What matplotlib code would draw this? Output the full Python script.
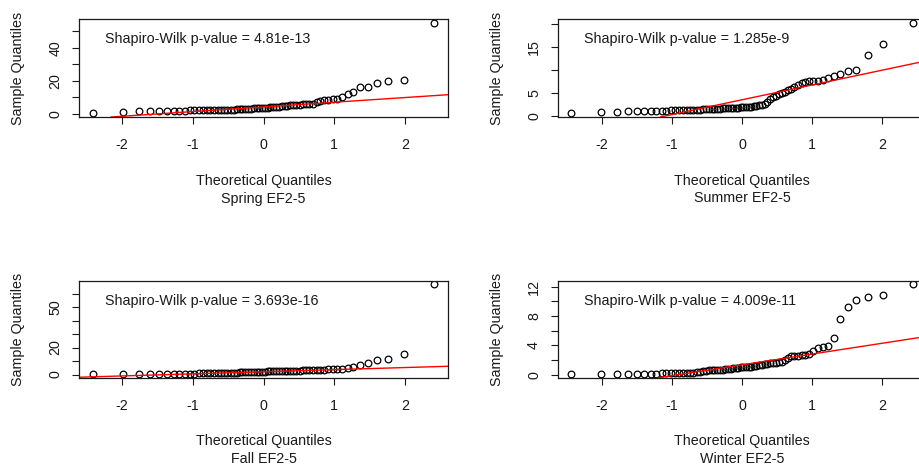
import matplotlib
matplotlib.use('Agg')
import matplotlib.pyplot as plt
import numpy as np
from statistics import NormalDist

plt.rcParams['font.family'] = ['Liberation Sans', 'DejaVu Sans']
plt.rcParams['font.size'] = 10.3

# sorted EF2-5 values per season
spring = [0.3, 1.0, 1.6, 1.7, 1.8, 1.9, 1.9, 2.0, 2.0, 2.1,
          2.1, 2.2, 2.2, 2.2, 2.3, 2.3, 2.3, 2.4, 2.4, 2.5,
          2.5, 2.6, 2.7, 2.8, 2.9, 3.0, 3.1, 3.2, 3.3, 3.4,
          3.5, 3.6, 3.7, 3.8, 4.0, 4.1, 4.3, 4.4, 4.6, 4.8,
          5.0, 5.1, 5.3, 5.4, 5.6, 5.8, 5.9, 6.1, 6.2, 7.0,
          8.0, 8.4, 8.7, 8.9, 9.1, 10.5, 11.9, 13.2, 16.3, 16.5,
          18.7, 19.9, 20.7, 55.3]
summer = [0.5, 0.7, 0.8, 1.0, 1.0, 1.0, 1.0, 1.0, 1.1, 1.1,
          1.2, 1.2, 1.2, 1.2, 1.3, 1.3, 1.3, 1.3, 1.3, 1.4,
          1.4, 1.4, 1.5, 1.5, 1.5, 1.5, 1.6, 1.6, 1.6, 1.7,
          1.7, 1.7, 1.7, 1.8, 1.8, 1.8, 1.9, 2.0, 2.1, 2.2,
          2.3, 2.4, 2.5, 2.9, 3.6, 4.0, 4.4, 4.7, 5.0, 5.2,
          5.6, 5.9, 6.3, 6.7, 7.1, 7.3, 7.5, 7.6, 7.7, 7.9,
          8.3, 8.6, 9.2, 9.9, 10.1, 13.3, 15.8, 20.4]
fall = [0.3, 0.4, 0.4, 0.5, 0.5, 0.5, 0.6, 0.6, 0.6, 0.7,
        0.7, 0.8, 0.8, 0.9, 0.9, 1.0, 1.0, 1.1, 1.2, 1.2,
        1.3, 1.4, 1.4, 1.5, 1.6, 1.7, 1.8, 1.9, 2.0, 2.0,
        2.1, 2.1, 2.2, 2.3, 2.3, 2.4, 2.5, 2.5, 2.6, 2.7,
        2.7, 2.8, 2.8, 2.9, 2.9, 3.0, 3.0, 3.1, 3.1, 3.2,
        3.4, 3.7, 4.0, 4.1, 4.2, 4.3, 5.0, 5.7, 6.7, 8.7,
        10.4, 11.6, 14.9, 66.9]
winter = [0.1, 0.1, 0.1, 0.1, 0.1, 0.1, 0.1, 0.1, 0.2, 0.2,
          0.2, 0.2, 0.3, 0.3, 0.3, 0.3, 0.3, 0.4, 0.4, 0.5,
          0.5, 0.6, 0.6, 0.6, 0.7, 0.7, 0.7, 0.8, 0.8, 0.8,
          0.9, 0.9, 0.9, 1.0, 1.0, 1.1, 1.1, 1.1, 1.2, 1.2,
          1.3, 1.4, 1.5, 1.5, 1.6, 1.6, 1.6, 1.7, 1.8, 2.0,
          2.3, 2.5, 2.6, 2.6, 2.7, 2.7, 2.8, 3.2, 3.6, 3.8,
          3.9, 5.0, 7.6, 9.2, 10.1, 10.6, 10.8, 12.3]

seasons = ['Spring', 'Summer', 'Fall', 'Winter']
samples = [spring, summer, fall, winter]
shapiro_p = ['4.81e-13', '1.285e-9', '3.693e-16', '4.009e-11']
y_ticks = [[0, 10, 20, 30, 40, 50], [0, 5, 10, 15, 20],
           [0, 10, 20, 30, 40, 50, 60], [0, 2, 4, 6, 8, 10, 12]]
y_labeled = [[0, 20, 40], [0, 5, 15], [0, 20, 50], [0, 4, 8, 12]]
x_ticks = [-2, -1, 0, 1, 2]

W, H = 919, 468
# plot boxes in pixels: left, top, width, height (right column runs off the edge)
boxes = [(79, 19, 369, 98), (557.7, 19, 369, 98),
         (79, 280.7, 369, 97), (557.7, 280.7, 369, 97)]

fig = plt.figure(figsize=(W / 100, H / 100), dpi=100)
fig.patch.set_facecolor('white')
nd = NormalDist()
ink = '#1a1a1a'


def ppoints(n):
    a = 3 / 8 if n <= 10 else 0.5
    return (np.arange(1, n + 1) - a) / (n + 1 - 2 * a)


def r_range(v):
    lo, hi = min(v), max(v)
    pad = 0.04 * (hi - lo)
    return lo - pad, hi + pad


for k, (season, y) in enumerate(zip(seasons, samples)):
    left, top, w, h = boxes[k]
    ax = fig.add_axes([left / W, 1 - (top + h) / H, w / W, h / H])
    y = np.sort(np.array(y))
    x = np.array([nd.inv_cdf(p) for p in ppoints(len(y))])

    ax.plot(x, y, 'o', ms=4.8, mfc='none', mec='black', mew=0.9)

    # qqline through the first and third quartiles
    qy = np.quantile(y, [0.25, 0.75])
    qx = np.array([nd.inv_cdf(0.25), nd.inv_cdf(0.75)])
    slope = (qy[1] - qy[0]) / (qx[1] - qx[0])
    icpt = qy[0] - slope * qx[0]
    ax.axline((0, icpt), slope=slope, color='red', lw=1.0)

    ax.set_xlim(*r_range(x))
    ax.set_ylim(*r_range(y))

    ax.set_xticks(x_ticks)
    ax.set_xticklabels([str(t) for t in x_ticks])
    ax.set_yticks(y_ticks[k])
    ax.set_yticklabels([str(t) if t in y_labeled[k] else '' for t in y_ticks[k]])
    ax.tick_params(axis='both', direction='out', length=5, width=0.8,
                   color=ink, labelcolor=ink)
    ax.tick_params(axis='x', pad=10)
    ax.tick_params(axis='y', pad=7, labelrotation=90)
    for lab in ax.get_yticklabels():
        lab.set_va('center')
    for sp in ax.spines.values():
        sp.set_color(ink)
        sp.set_linewidth(0.9)

    ax.set_xlabel('Theoretical Quantiles', color=ink)
    ax.xaxis.label.set_va('center')
    ax.xaxis.set_label_coords(0.5, -63.8 / h)
    ax.text(0.5, -81.5 / h, f'{season} EF2-5', transform=ax.transAxes,
            ha='center', va='center', color=ink)
    ax.set_ylabel('Sample Quantiles', color=ink)
    ax.yaxis.label.set_va('center')
    ax.yaxis.set_label_coords(-60.8 / w, 0.5)

    ax.text(0.07, 1 - 20 / h, f'Shapiro-Wilk p-value = {shapiro_p[k]}',
            transform=ax.transAxes, ha='left', va='center', color=ink)

fig.savefig('out.png', dpi=100)
